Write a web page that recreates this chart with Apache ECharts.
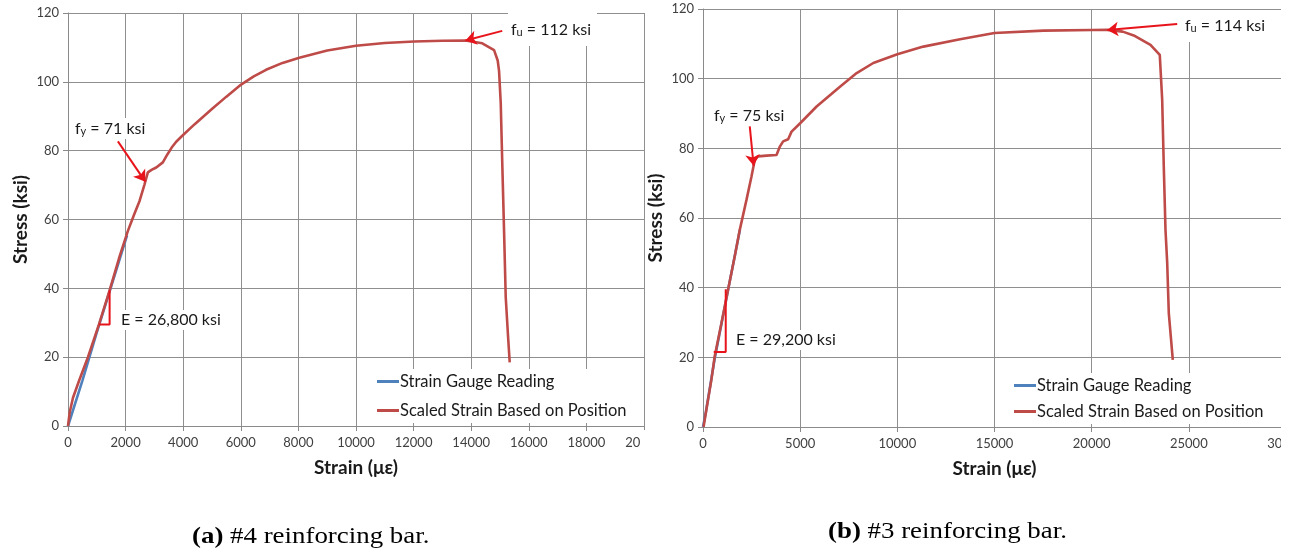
<!DOCTYPE html>
<html>
<head>
<meta charset="utf-8">
<script src="https://cdn.jsdelivr.net/npm/echarts@6/dist/echarts.min.js"></script>
<style>
  html, body { margin: 0; padding: 0; background: #fff; }
  #chart { width: 1291px; height: 556px; }
</style>
</head>
<body>
<div id="chart"></div>
<script>
// ---- #4 reinforcing bar: strain (με) / stress (ksi) ----
const bar4GaugeStrain = [0, 500, 1000, 1500, 2050];
const bar4GaugeStress = [0, 13.2, 27.2, 40.6, 55.4];
const bar4ScaledStrain = [0, 60, 173, 400, 693, 1075, 1445, 1800, 2080, 2300, 2485, 2650, 2773, 2900, 3064, 3293, 3450, 3600, 3757, 3950, 4400, 5026, 5500, 6010, 6450, 6877, 7450, 8031, 9000, 10000, 11000, 12019, 13000, 13800, 14385, 14794, 14920, 14967, 15025, 15083, 15141, 15199, 15280, 15337];
const bar4ScaledStress = [0, 4, 8.2, 13.5, 20, 29.5, 39.4, 49.5, 56.7, 61.5, 65.4, 70, 73.7, 74.4, 75.1, 76.6, 78.9, 80.9, 82.6, 84.2, 87.7, 92.3, 95.7, 99.2, 101.6, 103.5, 105.5, 107.0, 109.1, 110.5, 111.3, 111.7, 111.95, 112, 111.2, 109.2, 106.2, 103.2, 94, 75, 56.7, 37.4, 26, 18.5];
const bar4Fy = 71;          // ksi
const bar4Fu = 112;         // ksi
const bar4E = 26800;        // ksi
const bar4SlopeLeg = [1075, 1445, 29.5];   // strain from, strain to, base stress

// ---- #3 reinforcing bar ----
const bar3GaugeStrain = [0, 150, 600, 1300, 1900];
const bar3GaugeStress = [0, 4.4, 19.6, 39.6, 56.6];
const bar3ScaledStrain = [30, 60, 175, 433, 603, 948, 1289, 1634, 1892, 2237, 2495, 2665, 2835, 3268, 3784, 3954, 4124, 4382, 4557, 5000, 5846, 7047, 7908, 8763, 10000, 11340, 13229, 15000, 17526, 20021, 20800, 21600, 22165, 23026, 23505, 23629, 23711, 23799, 23887, 23969, 24175];
const bar3ScaledStress = [0, 1.1, 5, 13.6, 20.3, 29.8, 39.4, 49, 56.6, 65.2, 71.9, 76.7, 77.7, 77.9, 78.1, 80.5, 82, 82.6, 84.8, 87.2, 92, 97.7, 101.6, 104.5, 107, 109.2, 111.3, 113.1, 113.8, 113.95, 114, 113.5, 112.4, 109.7, 106.8, 93.9, 74.8, 56.6, 47.1, 32.7, 19.3];
const bar3Fy = 75;
const bar3Fu = 114;
const bar3E = 29200;
const bar3SlopeLeg = [552, 1170, 21.5];

// Arrow tails (strain, stress) for the fy / fu callouts
const bar4FyTail = [1733, 82.7];
const bar4FuTail = [15078, 114.8];
const bar3FyTail = [2407, 86.3];
const bar3FuTail = [24402, 115.7];

const xTicks4 = { min: 0, max: 20000, interval: 2000 };
const xTicks3 = { min: 0, max: 30000, interval: 5000 };
const yTicks = { min: 0, max: 120, interval: 20 };

const GAUGE = 'Strain Gauge Reading';
const SCALED = 'Scaled Strain Based on Position';
const BLUE = '#4f81bd';
const RED = '#be4b48';
const MARK = '#e8141b';
const FONT = 'Lato';
const SERIF = '"Liberation Serif", "Times New Roman", serif';

function zip(xs, ys) { return xs.map((x, i) => [x, ys[i]]); }

// first strain at which the curve reaches a given stress
function strainAt(xs, ys, s) {
  for (let i = 1; i < ys.length; i++) {
    if (ys[i] >= s) {
      const t = (s - ys[i - 1]) / (ys[i] - ys[i - 1]);
      return xs[i - 1] + t * (xs[i] - xs[i - 1]);
    }
  }
  return xs[xs.length - 1];
}
function peakPoint(xs, ys) {
  let k = 0;
  ys.forEach((v, i) => { if (v > ys[k]) k = i; });
  return [xs[k], ys[k]];
}
function slopeLegs(leg, E) {
  const rise = E * (leg[1] - leg[0]) / 1e6;
  return [[leg[0], leg[2]], [leg[1], leg[2]], [leg[1], leg[2] + rise]];
}

function xAxisCfg(grid, t) {
  return {
    type: 'value', gridIndex: grid, min: t.min, max: t.max, interval: t.interval,
    name: 'Strain (με)', nameLocation: 'middle', nameGap: 32,
    nameTextStyle: { fontFamily: FONT, fontWeight: 'bold', fontSize: 19, color: '#1a1a1a' },
    axisLine: { show: true, lineStyle: { color: '#8a8a8a', width: 1 } },
    axisTick: { show: true, length: 5, lineStyle: { color: '#8a8a8a' } },
    axisLabel: { fontFamily: FONT, fontSize: 13, color: '#404040', margin: 10, showMaxLabel: true,
                 formatter: v => String(v) },
    splitLine: { show: true, lineStyle: { color: '#8f8f8f', width: 1 } }
  };
}
function yAxisCfg(grid) {
  return {
    type: 'value', gridIndex: grid, min: yTicks.min, max: yTicks.max, interval: yTicks.interval,
    name: 'Stress (ksi)', nameLocation: 'middle', nameGap: 38, nameRotate: 90,
    nameTextStyle: { fontFamily: FONT, fontWeight: 'bold', fontSize: 19, color: '#1a1a1a' },
    axisLine: { show: true, lineStyle: { color: '#8a8a8a', width: 1 } },
    axisTick: { show: true, length: 5, lineStyle: { color: '#8a8a8a' } },
    axisLabel: { fontFamily: FONT, fontSize: 13, color: '#404040', margin: 9, formatter: v => String(v) },
    splitLine: { show: true, lineStyle: { color: '#8f8f8f', width: 1 } }
  };
}
function curve(name, grid, data, color, z) {
  return {
    name, type: 'line', xAxisIndex: grid, yAxisIndex: grid, data,
    showSymbol: false, smooth: false, z,
    lineStyle: { color, width: 2.6 }, itemStyle: { color }
  };
}
function arrow(grid, tail, tip) {
  return {
    name: 'callout', type: 'lines', coordinateSystem: 'cartesian2d',
    xAxisIndex: grid, yAxisIndex: grid, silent: true, z: 6,
    symbol: ['none', 'arrow'], symbolSize: [8, 11],
    lineStyle: { color: MARK, width: 2, opacity: 1, curveness: 0 },
    data: [{ coords: [tail, tip] }]
  };
}
function slope(grid, pts) {
  return {
    name: 'slope', type: 'line', xAxisIndex: grid, yAxisIndex: grid, data: pts,
    showSymbol: false, silent: true, z: 7,
    lineStyle: { color: MARK, width: 2 }, itemStyle: { color: MARK }
  };
}
function note(x, y, sub, rest, pad) {
  const parts = sub ? '{m|f}{s|' + sub + '}{m|' + rest + '}' : '{m|' + rest + '}';
  return {
    type: 'text', left: x, top: y, z: 50,
    style: {
      text: parts, backgroundColor: '#fff', padding: pad,
      rich: {
        m: { fontFamily: FONT, fontSize: 16, fill: '#1a1a1a' },
        s: { fontFamily: FONT, fontSize: 11, fill: '#1a1a1a', padding: [6, 0, 0, 0] }
      }
    }
  };
}
function legendCfg(left, top, gap) {
  return {
    orient: 'vertical', left, top, data: [GAUGE, SCALED],
    icon: 'rect', itemWidth: 22, itemHeight: 3, itemGap: gap,
    backgroundColor: '#fff', padding: [4, 8, 4, 6],
    textStyle: { fontFamily: FONT, fontSize: 16.5, color: '#1a1a1a', padding: [0, 0, 0, -4] },
    selectedMode: false
  };
}
function caption(x, y, tag, rest) {
  return {
    type: 'text', left: x, top: y, z: 60, scaleX: 1.12,
    style: {
      text: '{b|' + tag + '}{r| ' + rest + '}',
      rich: {
        b: { fontFamily: SERIF, fontSize: 24, fontWeight: 'bold', fill: '#000' },
        r: { fontFamily: SERIF, fontSize: 24, fill: '#000' }
      }
    }
  };
}

const s4 = zip(bar4ScaledStrain, bar4ScaledStress);
const s3 = zip(bar3ScaledStrain, bar3ScaledStress);

const option = {
  backgroundColor: '#fff',
  animation: false,
  grid: [
    { left: 68, top: 13, width: 576, height: 413, outerBoundsMode: 'none', containLabel: false },
    { left: 703, top: 9, width: 583, height: 418, outerBoundsMode: 'none', containLabel: false }
  ],
  xAxis: [xAxisCfg(0, xTicks4), xAxisCfg(1, xTicks3)],
  yAxis: [yAxisCfg(0), yAxisCfg(1)],
  legend: [legendCfg(371, 369, 12), legendCfg(1008, 373, 9)],
  series: [
    curve(GAUGE, 0, zip(bar4GaugeStrain, bar4GaugeStress), BLUE, 3),
    curve(SCALED, 0, s4, RED, 4),
    curve(GAUGE, 1, zip(bar3GaugeStrain, bar3GaugeStress), BLUE, 3),
    curve(SCALED, 1, s3, RED, 4),
    slope(0, slopeLegs(bar4SlopeLeg, bar4E)),
    slope(1, slopeLegs(bar3SlopeLeg, bar3E)),
    arrow(0, bar4FyTail, [strainAt(bar4ScaledStrain, bar4ScaledStress, bar4Fy), bar4Fy]),
    arrow(0, bar4FuTail, peakPoint(bar4ScaledStrain, bar4ScaledStress)),
    arrow(1, bar3FyTail, [strainAt(bar3ScaledStrain, bar3ScaledStress, bar3Fy), bar3Fy]),
    arrow(1, bar3FuTail, peakPoint(bar3ScaledStrain, bar3ScaledStress))
  ],
  graphic: [
    note(73, 118, 'y', ' = ' + bar4Fy + ' ksi', [2, 2]),
    note(508, 13, 'u', ' = ' + bar4Fu + ' ksi', [8, 6, 8, 3]),
    note(119, 310, null, 'E = ' + bar4E.toLocaleString('en-US') + ' ksi', [2, 2]),
    note(712, 105, 'y', ' = ' + bar3Fy + ' ksi', [2, 2]),
    note(1182, 10, 'u', ' = ' + bar3Fu + ' ksi', [7, 6, 8, 3]),
    note(734, 330, null, 'E = ' + bar3E.toLocaleString('en-US') + ' ksi', [2, 2]),
    // edges of the two panels
    { type: 'rect', left: 640, top: 430, z: 60, shape: { width: 28, height: 22 }, style: { fill: '#fff' } },
    { type: 'rect', left: 1281, top: 0, z: 60, shape: { width: 10, height: 460 }, style: { fill: '#fff' } },
    // captions
    caption(192, 525, '(a)', '#4 reinforcing bar.'),
    caption(828, 520, '(b)', '#3 reinforcing bar.')
  ]
};

const chart = echarts.init(document.getElementById('chart'), null, { renderer: 'canvas' });
chart.setOption(option);
</script>
</body>
</html>
